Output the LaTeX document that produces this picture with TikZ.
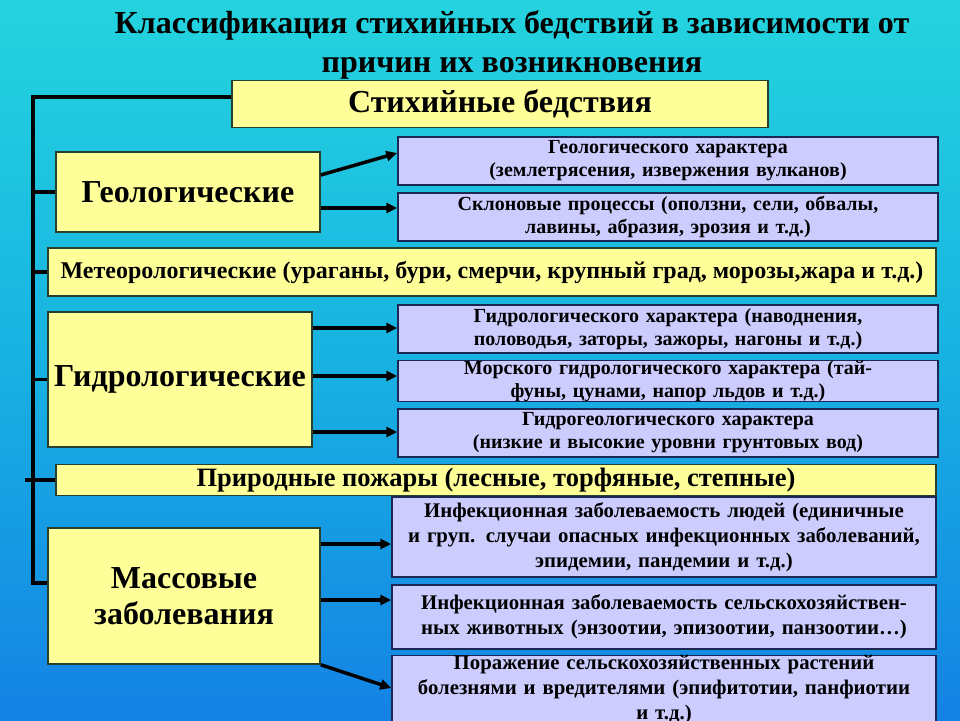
\documentclass[tikz,border=0pt]{standalone}
\usepackage{fontspec}
\setmainfont{Liberation Serif}
\usetikzlibrary{arrows.meta}

\definecolor{bgtop}{RGB}{36,212,222}
\definecolor{bgmid}{RGB}{24,178,226}
\definecolor{bgbot}{RGB}{20,130,228}
\definecolor{yellowbox}{RGB}{255,255,153}
\definecolor{yline}{RGB}{40,64,48}
\definecolor{lilac}{RGB}{204,204,255}
\definecolor{pline}{RGB}{28,40,84}

\newcommand{\fsz}[2]{\fontsize{#1}{#2}\selectfont}

\begin{document}
\begin{tikzpicture}[x=1pt,y=-1pt,
    ybox/.style={draw=yline, fill=yellowbox, line width=1.5pt, inner sep=0pt, align=center},
    pbox/.style={draw=pline, fill=lilac, line width=1.5pt, inner sep=0pt, align=center,
                 text width=540pt, font=\bfseries\fsz{20}{23}},
    trunk/.style={line width=3.5pt},
    arr/.style={line width=3.5pt, -{Triangle[length=11pt,width=10pt]}}]

    \shade[top color=bgtop, bottom color=bgbot, middle color=bgmid] (0,0) rectangle (960,720);
    \useasboundingbox (0,0) rectangle (960,720);

    \node[ybox, minimum width=536, minimum height=47, font=\bfseries\fsz{32}{38}] (sb) at (500,104) {Стихийные бедствия};
    \node[align=center, font=\bfseries\fsz{32}{39}] (title) at (512,45)
        {Классификация стихийных бедствий в зависимости от\\причин их возникновения};

    % geological
    \node[ybox, minimum width=264, minimum height=80, font=\bfseries\fsz{32}{38}] (geo) at (188,192) {Геологические};
    \node[pbox, minimum width=536, minimum height=48] (g1) at (668,161)
        {Геологического характера\\(землетрясения, извержения вулканов)};
    \node[pbox, minimum width=536, minimum height=48] (g2) at (668,217)
        {Склоновые процессы (оползни, сели, обвалы,\\лавины, абразия, эрозия и т.д.)};

    \node[ybox, minimum width=888, minimum height=48, font=\bfseries\fsz{24}{28}] (met) at (492,272)
        {Метеорологические (ураганы, бури, смерчи, крупный град, морозы,жара и т.д.)};

    % hydrological
    \node[ybox, minimum width=264, minimum height=135, font=\bfseries\fsz{32}{38}] (hyd) at (180,379.5) {Гидрологические};
    \node[pbox, minimum width=536, minimum height=48] (h1) at (668,329)
        {Гидрологического характера (наводнения,\\половодья, заторы, зажоры, нагоны и т.д.)};
    \node[pbox, minimum width=536, minimum height=40] (h2) at (668,381)
        {Морского гидрологического характера (тай-\\фуны, цунами,  напор льдов и т.д.)};
    \node[pbox, minimum width=536, minimum height=48] (h3) at (668,433)
        {Гидрогеологического характера\\(низкие и высокие уровни грунтовых вод)};

    \node[ybox, minimum width=880, minimum height=31, font=\bfseries\fsz{26.5}{30}] (fire) at (496,480)
        {Природные пожары (лесные, торфяные, степные)};

    % diseases
    \node[ybox, minimum width=272, minimum height=136, font=\bfseries\fsz{32}{36}] (mass) at (184,596) {Массовые\\заболевания};
    \node[pbox, minimum width=544, minimum height=80, font=\bfseries\fsz{20.8}{25}] (d1) at (664,537)
        {Инфекционная заболеваемость людей (единичные\\и груп. случаи опасных инфекционных заболеваний,\\эпидемии, пандемии и т.д.)};
    \node[pbox, minimum width=544, minimum height=64, font=\bfseries\fsz{20.8}{25}] (d2) at (664,617)
        {Инфекционная заболеваемость сельскохозяйствен-\\ных животных (энзоотии, эпизоотии, панзоотии\dots)};
    \node[pbox, minimum width=544, minimum height=68, font=\bfseries\fsz{20.8}{25}] (d3) at (664,690)
        {Поражение сельскохозяйственных растений\\болезнями и вредителями (эпифитотии, панфиотии\\и т.д.)};

    % tree lines
    \coordinate (t0) at (33,97);
    \coordinate (t5) at (33,583);
    \draw[trunk] (sb.west|-t0) -- (t0) -- (t5) -- (mass.west|-t5);
    \draw[trunk] (t0|-geo) -- (geo.west);
    \draw[trunk] (t0|-met) -- (met.west);
    \draw[trunk] (t0|-hyd) -- (hyd.west);
    \draw[trunk] (25,480) -- (fire.west);

    \draw[arr] (geo.east|-0,175) -- (g1.west|-0,153);
    \draw[arr] (geo.east|-0,208) -- (g2.west|-0,208);
    \draw[arr] (hyd.east|-0,328) -- (h1.west|-0,328);
    \draw[arr] (hyd.east|-0,376) -- (h2.west|-0,376);
    \draw[arr] (hyd.east|-0,432) -- (h3.west|-0,432);
    \draw[arr] (mass.east|-0,544) -- (d1.west|-0,544);
    \draw[arr] (mass.east|-0,600) -- (d2.west|-0,600);
    \draw[arr] (mass.south east) -- (d3.west|-0,688);
\end{tikzpicture}
\end{document}
